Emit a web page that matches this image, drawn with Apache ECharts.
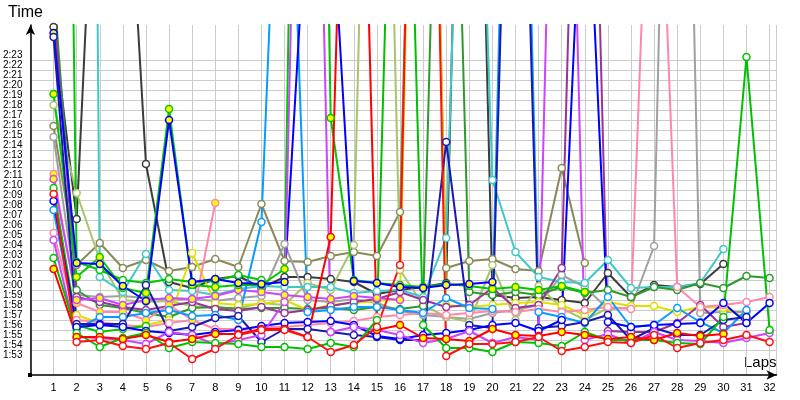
<!DOCTYPE html>
<html>
<head>
<meta charset="utf-8">
<script src="https://cdn.jsdelivr.net/npm/echarts@6/dist/echarts.min.js"></script>
<style>
html,body{margin:0;padding:0;background:#fff;}
#chart{width:800px;height:400px;}
</style>
</head>
<body>
<div id="chart"></div>
<script>
// Lap numbers (x axis categories)
const laps = [1,2,3,4,5,6,7,8,9,10,11,12,13,14,15,16,17,18,19,20,21,22,23,24,25,26,27,28,29,30,31,32];
// Y tick labels (seconds) shown as m:ss
const yTickMin = 113, yTickMax = 143;

// Lap times in seconds per driver (null = no lap)
const darkGray   = [145.8,126.6,176,172,132.1,120.3,119.7,120.6,120.9,119.7,120.8,120.8,120.6,120.3,119.1,119.5,119.8,120.2,215,119.0,118.7,118.8,118.5,118.2,121.2,118.8,120.0,119.8,120.1,122.1,null,null];
const olive      = [135.9,122.0,124.2,121.7,122.5,121.4,121.8,122.6,121.8,128.1,122.4,122.3,122.9,123.3,122.9,127.3,215,121.7,122.4,122.6,121.6,121.4,131.7,122.2,null,null,null,null,null,null,null,null];
const cyan       = [null,400,120.8,119.3,123.1,119.5,119.4,119.0,119.6,119.9,119.8,119.8,119.8,119.2,119.4,119.5,118.8,124.7,200,130.5,123.3,120.8,120.3,120.2,122.5,119.7,119.8,119.8,120.2,123.6,null,null];
const lightBlue  = [127.5,115.6,116.8,116.8,117.2,117.5,116.9,117.0,116.5,126.3,183,117.3,117.5,117.8,117.8,117.5,117.2,118.7,117.7,117.6,212,117.3,116.8,116.2,118.8,115.8,116.0,117.7,116.3,115.2,117.5,null];
const blueY      = [145.2,122.2,122.1,119.9,118.4,136.5,120.3,120.6,120.2,120.1,120.3,160,160,120.4,120.2,119.8,119.7,120.0,120.1,120.3,null,null,null,null,null,null,null,null,null,null,null,null];
const navy       = [144.8,116.1,116.1,116.1,120.0,115.4,115.8,116.7,116.9,114.3,115.6,115.6,115.3,115.0,114.8,114.5,114.5,134.3,116.0,115.7,200,115.7,115.9,116.3,117.0,114.5,115.7,115.0,115.0,116.5,116.8,null];
const blue       = [128.4,115.8,116.0,115.8,115.4,115.2,115.0,115.3,115.5,115.9,116.2,116.3,116.4,116.0,114.9,114.6,115.0,115.2,115.5,116.0,116.2,115.4,116.5,168,116.3,115.8,116.0,116.1,116.2,118.2,116.2,118.2];
const pink       = [125.2,116.5,116.3,116.0,115.8,116.2,116.5,115.6,115.6,115.8,115.8,116.0,116.2,116.4,116.8,117.0,117.2,117.0,117.2,117.4,117.3,117.6,117.3,117.5,117.8,117.6,180,119.8,117.8,118.0,118.3,118.8];
const pinkY      = [131.1,118.2,117.3,117.3,116.5,118.0,116.5,128.2,null,null,null,null,null,null,null,null,null,null,null,null,null,null,null,null,null,null,null,null,null,null,null,null];
const violetY    = [130.6,118.5,118.7,118.0,118.5,118.7,118.6,118.9,119.5,119.3,119.0,118.8,118.6,118.9,118.7,118.5,null,null,null,null,null,null,null,null,null,null,null,null,null,null,null,null];
const violet     = [124.5,114.8,114.7,114.5,114.1,115.3,115.0,114.0,114.5,115.0,118.3,220,115.3,115.8,115.5,115.0,114.2,114.6,115.4,114.2,114.8,114.5,210,114.5,115.1,114.2,115.3,114.5,114.4,114.2,114.7,115.2];
const purple     = [148,118.8,118.3,117.8,117.5,117.9,118.3,117.6,117.4,117.8,117.2,117.5,117.9,118.3,118.6,119.3,118.5,117.8,118.0,119.7,117.7,118.0,121.7,205,115.4,115.3,115.3,116.2,118.0,115.8,116.2,null];
const gray       = [134.8,119.0,118.8,118.9,118.7,118.5,118.6,118.4,118.7,118.9,124.1,118.5,118.3,118.6,118.2,117.4,117.0,116.8,116.6,117.2,117.5,118.0,121.0,119.8,117.6,117.7,123.9,225,117.2,117.3,117.3,null];
const lightOlive = [138.0,129.2,122.5,118.5,118.3,118.4,117.9,117.7,117.7,118.2,118.0,120.2,119.5,124.0,220,121.5,118.0,116.8,116.3,122.0,116.5,119.9,117.7,116.5,117.7,null,null,null,null,null,null,null];
const yellow     = [null,117.0,116.2,115.8,116.0,116.5,123.2,118.2,118.0,118.1,118.5,117.5,118.0,118.2,118.4,118.6,228,118.0,117.8,118.0,118.2,118.3,118.0,117.0,118.3,117.9,117.9,117.3,117.8,117.7,116.7,null];
const darkGreen  = [150,119.5,118.0,117.7,117.2,116.8,117.7,117.8,117.6,117.7,117.7,117.6,117.7,117.5,117.8,117.6,117.9,205,119.3,119.0,119.3,119.0,119.8,119.2,119.5,118.8,119.8,119.5,120.2,119.7,120.9,120.7];
const green      = [122.7,115.2,113.8,114.7,115.2,113.7,114.3,114.2,114.1,113.8,113.8,113.6,114.2,113.8,116.5,200,116.0,113.7,113.7,113.3,114.3,114.2,113.9,115.3,114.5,114.5,114.5,114.2,114.1,116.8,142.8,115.5];
const greenY     = [139.1,120.8,122.8,119.7,119.2,137.6,120.0,119.8,120.0,120.0,121.6,262,136.7,120.5,120.2,120.0,119.8,120.1,119.9,119.6,119.8,119.5,119.9,119.3,null,null,null,null,null,null,null,null];
const green2     = [129.7,116.0,115.3,115.6,115.9,null,null,null,null,null,null,null,null,null,null,null,null,null,null,null,null,null,null,null,null,null,null,null,null,null,null,null];
const green3     = [300,122.3,121.5,120.5,120.2,120.6,120.3,120.4,121.0,120.5,null,null,null,null,null,null,null,null,null,null,null,null,null,null,null,null,null,null,null,null,null,null];
const red        = [129.1,114.3,114.5,113.9,113.6,114.2,112.6,113.6,115.0,115.5,115.5,114.8,113.3,114.0,115.8,122.0,230,112.9,114.1,114.1,114.3,114.8,113.4,113.8,114.3,114.2,115.0,113.7,114.2,114.5,115.0,114.3];
const redY       = [121.6,114.8,114.8,114.6,115.0,114.3,114.6,115.1,115.1,115.6,115.6,114.8,124.8,205,115.5,116.0,114.7,114.6,114.4,115.6,115.0,114.9,115.3,115.0,114.6,114.8,114.5,115.2,114.9,115.1,null,null];

const drivers = [
  {name:'darkGray',   data:darkGray,   color:'#3c3c3c', fill:'#ffffff'},
  {name:'olive',      data:olive,      color:'#8a8a58', fill:'#ffffff'},
  {name:'gray',       data:gray,       color:'#a0a0a0', fill:'#ffffff'},
  {name:'lightOlive', data:lightOlive, color:'#a9c46c', fill:'#ffffff'},
  {name:'cyan',       data:cyan,       color:'#40c8c8', fill:'#ffffff'},
  {name:'darkGreen',  data:darkGreen,  color:'#2e9a2e', fill:'#ffffff'},
  {name:'yellow',     data:yellow,     color:'#e0e000', fill:'#ffffff'},
  {name:'purple',     data:purple,     color:'#993399', fill:'#ffffff'},
  {name:'pink',       data:pink,       color:'#ff88aa', fill:'#ffffff'},
  {name:'pinkY',      data:pinkY,      color:'#ff88aa', fill:'#ffff00'},
  {name:'violetY',    data:violetY,    color:'#cc44ff', fill:'#ffff00'},
  {name:'lightBlue',  data:lightBlue,  color:'#0a9bff', fill:'#ffffff'},
  {name:'green3',     data:green3,     color:'#00c800', fill:'#ffffff'},
  {name:'green2',     data:green2,     color:'#00c800', fill:'#ffffff'},
  {name:'greenY',     data:greenY,     color:'#00c800', fill:'#ffff00'},
  {name:'blueY',      data:blueY,      color:'#0000ff', fill:'#ffff00'},
  {name:'navy',       data:navy,       color:'#1a1ab0', fill:'#ffffff'},
  {name:'blue',       data:blue,       color:'#0000ff', fill:'#ffffff'},
  {name:'violet',     data:violet,     color:'#cc44ff', fill:'#ffffff'},
  {name:'green',      data:green,      color:'#00c000', fill:'#ffffff'},
  {name:'redY',       data:redY,       color:'#ff0000', fill:'#ffff00'},
  {name:'red',        data:red,        color:'#ff1010', fill:'#ffffff'}
];

function fmt(v){
  if (v < yTickMin || v > yTickMax || Math.abs(v - Math.round(v)) > 1e-6) return '';
  const m = Math.floor(v/60), s = Math.round(v - m*60);
  return m + ':' + (s < 10 ? '0' + s : s);
}

const chart = echarts.init(document.getElementById('chart'), null, {renderer:'canvas'});
const series = drivers.map(d => ({
  name: d.name,
  type: 'line',
  xAxisIndex: 0, yAxisIndex: 0,
  data: laps.map((l,i) => [l, d.data[i] == null ? '-' : d.data[i]]),
  symbol: 'circle',
  symbolSize: 7,
  showAllSymbol: true,
  clip: true,
  animation: false,
  lineStyle: {color: d.color, width: 2},
  itemStyle: {color: d.fill, borderColor: d.color, borderWidth: 1.5},
  emphasis: {disabled: true}
}));

chart.setOption({
  animation: false,
  backgroundColor: '#ffffff',
  grid: [
    {left: 30, right: 23.5, top: 25, bottom: 25},
    {left: 30, right: 23.5, top: 60, bottom: 50}
  ],
  xAxis: [
    {
      type: 'value', gridIndex: 0, min: 0, max: 32.3, interval: 1,
      axisLine: {show: true, lineStyle: {color: '#000', width: 1.5}, symbol: ['none','arrow'], symbolSize: [7, 10]},
      axisTick: {show: false},
      axisLabel: {margin: 7, color: '#000', fontFamily: 'Liberation Sans', fontSize: 11,
        formatter: v => (v >= 1 && v <= 32) ? String(v) : ''},
      splitLine: {show: true, lineStyle: {color: '#cccccc', width: 1}}
    },
    {type: 'value', gridIndex: 1, min: 0, max: 1, show: false}
  ],
  yAxis: [
    {
      type: 'value', gridIndex: 0, min: 111, max: 146, interval: 1,
      axisLine: {show: true, lineStyle: {color: '#000', width: 1.5}, symbol: ['none','arrow'], symbolSize: [7, 10]},
      axisTick: {show: false},
      axisLabel: {margin: 8, color: '#000', fontFamily: 'Liberation Sans', fontSize: 10, formatter: fmt},
      splitLine: {show: false}
    },
    {
      type: 'value', gridIndex: 1, min: 113.5, max: 142.5, interval: 1,
      axisLine: {show: false}, axisTick: {show: false}, axisLabel: {show: false},
      splitLine: {show: true, lineStyle: {color: '#cccccc', width: 1}}
    }
  ],
  graphic: [
    {type: 'text', left: 8, top: 5, style: {text: 'Time', font: '16px "Liberation Sans"', fill: '#000'}},
    {type: 'text', left: 744, top: 355, style: {text: 'Laps', font: '15px "Liberation Sans"', fill: '#000'}},
    {type: 'rect', shape: {x: 28, y: 373, width: 4, height: 4}, style: {fill: '#000'}, z: 10}
  ],
  series: series
});
</script>
</body>
</html>
